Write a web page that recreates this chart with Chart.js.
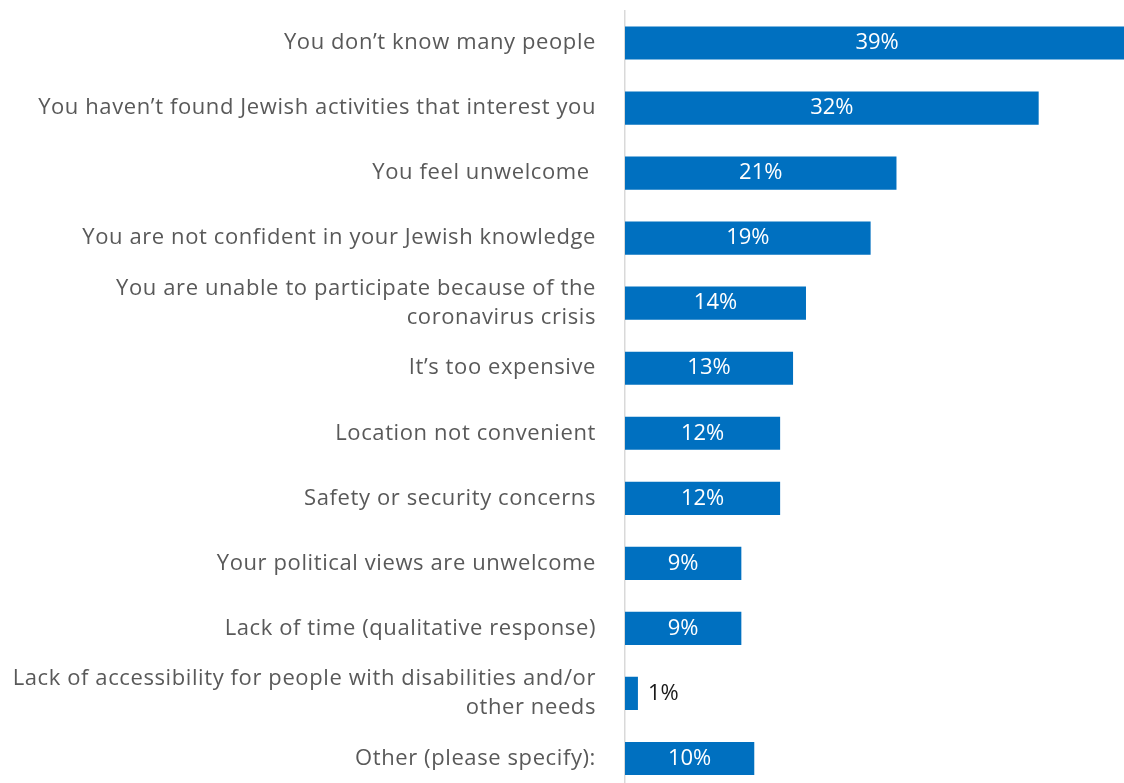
<!DOCTYPE html>
<html>
<head>
<meta charset="utf-8">
<title>Barriers to participation</title>
<script src="https://cdn.jsdelivr.net/npm/chart.js@4.4.0/dist/chart.umd.min.js"></script>
<style>
  html, body { margin: 0; padding: 0; background: #fff; overflow: hidden; }
  #wrap { position: relative; width: 1124px; height: 791px; }
</style>
</head>
<body>
<div id="wrap"><canvas id="chart"></canvas></div>
<script>
// Survey responses, top to bottom
const reasons = [
  'You don\u2019t know many people',
  'You haven\u2019t found Jewish activities that interest you',
  'You feel unwelcome ',
  'You are not confident in your Jewish knowledge',
  ['You are unable to participate because of the', 'coronavirus crisis'],
  'It\u2019s too expensive',
  'Location not convenient',
  'Safety or security concerns',
  'Your political views are unwelcome',
  'Lack of time (qualitative response)',
  ['Lack of accessibility for people with disabilities and/or', 'other needs'],
  'Other (please specify):'
];
const shares = [39, 32, 21, 19, 14, 13, 12, 12, 9, 9, 1, 10];

const FONT = '"Open Sans", Lato, sans-serif';
const SIZE = 22;

// slightly looser tracking for the category labels
const tracking = {
  id: 'tracking',
  beforeDraw(chart) {
    chart.ctx.letterSpacing = '0.6px';
  }
};

// percentage labels: inside the bar in white, or just past its end when it's too short
const valueLabels = {
  id: 'valueLabels',
  afterDatasetsDraw(chart) {
    const ctx = chart.ctx;
    const meta = chart.getDatasetMeta(0);
    ctx.save();
    ctx.letterSpacing = '0px';
    ctx.font = SIZE + 'px ' + FONT;
    ctx.textBaseline = 'middle';
    meta.data.forEach((bar, i) => {
      const text = shares[i] + '%';
      const len = bar.x - bar.base;
      if (ctx.measureText(text).width + 8 < len) {
        ctx.fillStyle = '#ffffff';
        ctx.textAlign = 'center';
        ctx.fillText(text, (bar.base + bar.x) / 2, bar.y);
      } else {
        ctx.fillStyle = '#1a1a1a';
        ctx.textAlign = 'left';
        ctx.fillText(text, bar.x + 10, bar.y);
      }
    });
    ctx.restore();
  }
};

new Chart(document.getElementById('chart'), {
  type: 'bar',
  data: {
    labels: reasons,
    datasets: [{
      data: shares,
      backgroundColor: '#0070c0',
      borderWidth: 0,
      categoryPercentage: 1,
      barPercentage: 0.51
    }]
  },
  options: {
    indexAxis: 'y',
    responsive: true,
    maintainAspectRatio: false,
    animation: false,
    layout: { padding: { top: 10.5, right: 0, bottom: 0, left: 0 } },
    plugins: {
      legend: { display: false },
      tooltip: { enabled: false }
    },
    scales: {
      x: {
        display: false,
        min: 0,
        max: 38.6
      },
      y: {
        grid: { display: false },
        border: { display: true, color: '#d9d9d9', width: 1.5 },
        ticks: {
          autoSkip: false,
          padding: 21,
          color: '#595959',
          font: { family: FONT, size: SIZE, lineHeight: 1.32 }
        },
        afterFit(scale) {
          // fixed label column; no extra room above/below for tick text
          scale.width = 625;
          scale.paddingTop = 0;
          scale.paddingBottom = 0;
        }
      }
    }
  },
  plugins: [tracking, valueLabels]
});
</script>
</body>
</html>
